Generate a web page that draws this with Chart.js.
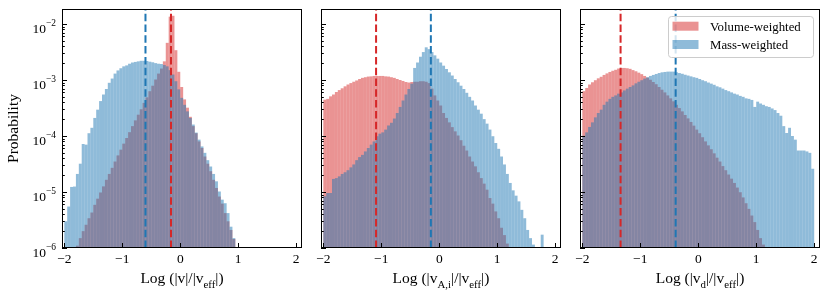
<!DOCTYPE html>
<html>
<head>
<meta charset="utf-8">
<script src="https://cdn.jsdelivr.net/npm/chart.js@4.4.0/dist/chart.umd.min.js"></script>
<style>
  body { margin: 0; background: #fff; }
  #wrap { position: relative; width: 830px; height: 297px; }
  canvas { position: absolute; top: 0; }
</style>
</head>
<body>
<div id="wrap">
  <canvas id="c1" width="310" height="297" style="left:0px"></canvas>
  <canvas id="c2" width="260" height="297" style="left:310px"></canvas>
  <canvas id="c3" width="260" height="297" style="left:570px"></canvas>
</div>
<script>
// bins of width 0.05 from -2 to 2 (centres)
const binCenters = Array.from({length: 80}, (_, i) => -1.975 + 0.05 * i);
const N = null;

// panel 1: |v|
const v1Vol = [N,N,N,N,1.1e-6,1.5e-6,2.0e-6,2.6e-6,3.4e-6,4.3e-6,
  5.9e-6,7.6e-6,9.8e-6,1.26e-5,1.65e-5,2.1e-5,2.7e-5,3.5e-5,4.5e-5,5.7e-5,
  7.3e-5,9.2e-5,1.17e-4,1.5e-4,1.9e-4,2.4e-4,3.0e-4,3.9e-4,4.9e-4,6.3e-4,
  7.9e-4,1.02e-3,1.3e-3,1.6e-3,2.15e-3,4.6e-3,1.35e-2,1.4e-2,3.4e-3,1.4e-3,
  7.5e-4,4.5e-4,3.2e-4,2.2e-4,1.5e-4,1.12e-4,8.0e-5,6.1e-5,4.3e-5,3.2e-5,
  2.35e-5,1.65e-5,1.18e-5,8.3e-6,6.2e-6,4.2e-6,3.0e-6,2.1e-6,1.45e-6,N,
  N,N,N,N,N,N,N,N,N,N,N,N,N,N,N,N,N,N,N,N];
const v1Mass = [3.0e-6,5.5e-6,1.23e-5,1.25e-5,2.1e-5,3.2e-5,7.2e-5,7.0e-5,1.12e-4,1.4e-4,
  2.1e-4,2.95e-4,4.2e-4,5.5e-4,6.9e-4,8.9e-4,1.06e-3,1.3e-3,1.48e-3,1.62e-3,
  1.75e-3,1.82e-3,1.95e-3,2.05e-3,2.1e-3,2.15e-3,2.2e-3,2.2e-3,2.18e-3,2.12e-3,
  2.07e-3,2.0e-3,1.95e-3,1.93e-3,1.85e-3,1.75e-3,1.5e-3,1.25e-3,9.5e-4,6.8e-4,
  4.8e-4,3.6e-4,2.75e-4,2.1e-4,1.6e-4,1.15e-4,8.6e-5,6.5e-5,5.0e-5,3.7e-5,
  2.85e-5,2.1e-5,1.55e-5,1.02e-5,7.3e-6,6.3e-6,4.2e-6,2.4e-6,1.5e-6,N,
  N,N,N,N,N,N,N,N,N,N,N,N,N,N,N,N,N,N,N,N];

// panel 2: |v_A,i|
const v2Vol = [4.45e-4,4.6e-4,5.1e-4,5.5e-4,6.1e-4,6.6e-4,7.1e-4,7.7e-4,8.3e-4,8.8e-4,
  9.3e-4,9.8e-4,1.04e-3,1.09e-3,1.12e-3,1.15e-3,1.16e-3,1.18e-3,1.18e-3,1.18e-3,
  1.18e-3,1.16e-3,1.15e-3,1.12e-3,1.09e-3,1.04e-3,1.0e-3,9.6e-4,9.2e-4,9.0e-4,
  9.2e-4,9.3e-4,9.3e-4,9.5e-4,9.5e-4,9.3e-4,8.8e-4,7.0e-4,5.3e-4,4.3e-4,
  3.5e-4,2.57e-4,2.1e-4,1.75e-4,1.44e-4,1.21e-4,1.02e-4,8.4e-5,6.7e-5,5.5e-5,
  4.3e-5,3.5e-5,2.87e-5,2.25e-5,1.77e-5,1.41e-5,1.1e-5,7.8e-6,6.2e-6,4.5e-6,
  3.4e-6,2.3e-6,1.7e-6,1.2e-6,N,N,N,N,N,N,N,N,N,N,N,N,N,N,N,N];
const v2Mass = [8.4e-6,9.6e-6,9.6e-6,1.71e-5,1.77e-5,1.9e-5,2.1e-5,2.25e-5,2.45e-5,2.75e-5,
  3.1e-5,3.7e-5,4.2e-5,4.6e-5,5.3e-5,6.1e-5,7.0e-5,8.0e-5,9.9e-5,1.1e-4,
  1.16e-4,1.3e-4,1.54e-4,1.72e-4,2.05e-4,2.57e-4,3.3e-4,4.3e-4,5.5e-4,6.9e-4,
  8.6e-4,1.64e-3,2.05e-3,2.6e-3,3.15e-3,3.83e-3,3.55e-3,3.15e-3,2.75e-3,2.4e-3,
  2.05e-3,1.8e-3,1.57e-3,1.37e-3,1.2e-3,1.04e-3,9.1e-4,7.9e-4,6.9e-4,5.9e-4,
  5.0e-4,4.3e-4,3.5e-4,2.95e-4,2.5e-4,2.0e-4,1.66e-4,1.3e-4,9.9e-5,7.5e-5,
  5.9e-5,4.3e-5,3.1e-5,2.1e-5,1.45e-5,1.07e-5,8.6e-6,6.8e-6,4.8e-6,3.4e-6,
  2.1e-6,1.5e-6,1.15e-6,N,N,1.73e-6,N,N,N,N];

// panel 3: |v_d|
const v3Vol = [6.3e-4,7.2e-4,8.3e-4,9.1e-4,9.9e-4,1.07e-3,1.14e-3,1.23e-3,1.31e-3,1.39e-3,
  1.46e-3,1.52e-3,1.6e-3,1.64e-3,1.64e-3,1.62e-3,1.58e-3,1.5e-3,1.43e-3,1.35e-3,
  1.27e-3,1.18e-3,1.1e-3,1.01e-3,9.2e-4,8.4e-4,7.5e-4,6.7e-4,6.0e-4,5.3e-4,
  4.7e-4,4.16e-4,3.6e-4,3.15e-4,2.75e-4,2.37e-4,2.06e-4,1.78e-4,1.53e-4,1.3e-4,
  1.12e-4,9.5e-5,8.0e-5,6.8e-5,5.8e-5,4.9e-5,4.1e-5,3.5e-5,2.9e-5,2.45e-5,
  2.05e-5,1.73e-5,1.45e-5,1.2e-5,9.9e-6,8.0e-6,6.3e-6,5.0e-6,3.8e-6,2.9e-6,
  2.1e-6,1.5e-6,1.15e-6,N,N,N,N,N,N,N,N,N,N,N,N,N,N,N,N,N];
const v3Mass = [1.01e-4,1.16e-4,1.45e-4,1.75e-4,2.15e-4,2.57e-4,2.95e-4,3.6e-4,4.1e-4,4.6e-4,
  5.0e-4,5.3e-4,5.7e-4,6.0e-4,6.5e-4,7.0e-4,7.5e-4,8.0e-4,8.7e-4,9.3e-4,
  9.9e-4,1.06e-3,1.12e-3,1.18e-3,1.23e-3,1.28e-3,1.33e-3,1.37e-3,1.39e-3,1.41e-3,
  1.41e-3,1.41e-3,1.37e-3,1.33e-3,1.29e-3,1.24e-3,1.2e-3,1.16e-3,1.12e-3,1.09e-3,
  1.04e-3,9.9e-4,9.5e-4,9.0e-4,8.6e-4,8.2e-4,7.7e-4,7.4e-4,7.0e-4,6.6e-4,
  6.3e-4,6.0e-4,5.7e-4,5.5e-4,5.2e-4,5.0e-4,4.7e-4,4.6e-4,4.4e-4,3.3e-4,
  4.1e-4,3.8e-4,3.6e-4,3.4e-4,3.3e-4,3.1e-4,2.9e-4,2.57e-4,2.3e-4,1.5e-4,
  1.13e-4,1.4e-4,1.0e-4,8.6e-5,5.5e-5,5.5e-5,5.5e-5,5.3e-5,5.0e-5,2.6e-5];

// medians drawn as dashed lines (panel 1, 2, 3)
const medVol = [-0.16, -1.09, -1.34];
const medMass = [-0.60, -0.145, -0.39];

const xTicks = [-2, -1, 0, 1, 2];
const yTicks = [1e-6, 1e-5, 1e-4, 1e-3, 1e-2];
const seriesNames = ['Volume-weighted', 'Mass-weighted'];

const FONT = "'Liberation Serif', 'DejaVu Serif', serif";
const RED = '#d62728', BLUE = '#1f77b4';
const RED_A = 'rgba(214,39,40,0.5)', BLUE_A = 'rgba(31,119,180,0.5)';

function richText(ctx, parts, x, y, size, align) {
  const fonts = parts.map(p => (p[1] ? size * 0.7 : size) + 'px ' + FONT);
  const widths = parts.map((p, i) => { ctx.font = fonts[i]; return ctx.measureText(p[0]).width; });
  const total = widths.reduce((a, b) => a + b, 0);
  let cx = align === 'right' ? x - total : align === 'center' ? x - total / 2 : x;
  ctx.textAlign = 'left';
  ctx.textBaseline = 'alphabetic';
  parts.forEach((p, i) => {
    ctx.font = fonts[i];
    const dy = p[1] === 1 ? size * 0.3 : p[1] === 2 ? -size * 0.5 : 0;
    ctx.fillText(p[0], cx, y + dy);
    cx += widths[i];
  });
}

const decor = {
  id: 'decor',
  afterDatasetsDraw(chart, args, o) {
    const {ctx, chartArea: a, scales: {x}} = chart;
    ctx.save();
    ctx.beginPath();
    ctx.rect(a.left, a.top, a.right - a.left, a.bottom - a.top);
    ctx.clip();
    ctx.lineWidth = 2;
    ctx.setLineDash([7.5, 3.3]);
    [[o.vol, RED], [o.mass, BLUE]].forEach(([v, c]) => {
      const px = x.getPixelForValue(v);
      ctx.strokeStyle = c;
      ctx.beginPath();
      ctx.moveTo(px, a.bottom);
      ctx.lineTo(px, a.top);
      ctx.stroke();
    });
    ctx.restore();
  },
  afterDraw(chart, args, o) {
    const {ctx, chartArea: a, scales: {x, y}} = chart;
    ctx.save();
    ctx.strokeStyle = '#000';
    ctx.fillStyle = '#000';
    ctx.lineWidth = 1;
    // inward ticks
    ctx.beginPath();
    xTicks.forEach(v => {
      const px = Math.round(x.getPixelForValue(v)) + 0.5;
      ctx.moveTo(px, a.bottom); ctx.lineTo(px, a.bottom - 5);
    });
    for (let e = -6; e <= -2; e++) {
      for (let k = 1; k <= 9; k++) {
        const v = k * Math.pow(10, e);
        if (v > y.max) break;
        const py = Math.round(y.getPixelForValue(v)) + 0.5;
        ctx.moveTo(a.left, py); ctx.lineTo(a.left + (k === 1 ? 5 : 2.8), py);
      }
    }
    ctx.stroke();
    // frame
    ctx.strokeRect(Math.round(a.left) + 0.5, Math.round(a.top) + 0.5,
      Math.round(a.right - a.left) - 1, Math.round(a.bottom - a.top) - 1);
    // y tick labels
    if (o.yLabels) {
      yTicks.forEach(v => {
        const py = y.getPixelForValue(v);
        const ex = Math.round(Math.log10(v));
        richText(ctx, [['10', 0], ['\u2212' + Math.abs(ex), 2]], a.left - 6, py + 9, 13.5, 'right');
      });
    }
    // x title
    richText(ctx, o.xTitle, (a.left + a.right) / 2, 283, 15.5, 'center');
    // legend
    if (o.legend) {
      const bw = 145, bh = 41;
      const bx = a.right - 7 - bw, by = a.top + 7;
      ctx.beginPath();
      ctx.roundRect(bx + 0.5, by + 0.5, bw, bh, 3);
      ctx.fillStyle = 'rgba(255,255,255,0.8)';
      ctx.fill();
      ctx.strokeStyle = '#cccccc';
      ctx.stroke();
      [[RED_A, 5.7], [BLUE_A, 24]].forEach(([c, dy], i) => {
        ctx.fillStyle = c;
        ctx.fillRect(bx + 4.5, by + dy, 26, 9);
        ctx.fillStyle = '#000';
        ctx.font = '12.8px ' + FONT;
        ctx.textAlign = 'left';
        ctx.textBaseline = 'alphabetic';
        ctx.fillText(seriesNames[i], bx + 42, by + dy + 9);
      });
    }
    ctx.restore();
  }
};

function makePanel(id, vol, mass, p) {
  const pts = arr => binCenters.map((c, i) => ({x: c, y: arr[i]}));
  new Chart(id, {
    type: 'bar',
    data: {
      datasets: [
        {label: seriesNames[0], data: pts(vol), backgroundColor: RED_A, order: 1},
        {label: seriesNames[1], data: pts(mass), backgroundColor: BLUE_A, order: 0}
      ]
    },
    options: {
      responsive: false,
      animation: false,
      events: [],
      grouped: false,
      barPercentage: 1,
      categoryPercentage: 1,
      borderWidth: 0,
      inflateAmount: 0,
      base: 1e-6,
      layout: {padding: {top: 9, right: p.padRight, left: 0, bottom: 0}},
      plugins: {
        legend: {display: false},
        tooltip: {enabled: false},
        decor: {vol: p.vol, mass: p.mass, yLabels: p.yLabels, legend: p.legend, xTitle: p.xTitle}
      },
      scales: {
        x: {
          type: 'linear', min: -2.04, max: 2.1, offset: false,
          grid: {display: false, drawTicks: false, tickLength: 0}, border: {display: false},
          ticks: {
            color: '#000', padding: 3, maxRotation: 0, autoSkip: false,
            font: {family: FONT, size: 13.5},
            callback: v => (v < 0 ? '\u2212' + Math.abs(v) : String(v))
          },
          afterBuildTicks: s => { s.ticks = xTicks.map(v => ({value: v})); },
          afterFit: s => { s.height = 49; }
        },
        y: {
          type: 'logarithmic', min: 1e-6, max: 0.0185,
          grid: {display: false}, border: {display: false},
          ticks: {display: false},
          title: {
            display: p.yLabels, text: 'Probability', color: '#000',
            font: {family: FONT, size: 15.5}, padding: {top: 5, bottom: 0}
          },
          afterFit: s => { s.width = p.yWidth; }
        }
      }
    },
    plugins: [decor]
  });
}

makePanel('c1', v1Vol, v1Mass, {
  vol: medVol[0], mass: medMass[0], yLabels: true, legend: false, yWidth: 62, padRight: 8,
  xTitle: [['Log (|v|/|v', 0], ['eff', 1], ['|)', 0]]
});
makePanel('c2', v2Vol, v2Mass, {
  vol: medVol[1], mass: medMass[1], yLabels: false, legend: false, yWidth: 11, padRight: 9,
  xTitle: [['Log (|v', 0], ['A,i', 1], ['|/|v', 0], ['eff', 1], ['|)', 0]]
});
makePanel('c3', v3Vol, v3Mass, {
  vol: medVol[2], mass: medMass[2], yLabels: false, legend: true, yWidth: 10, padRight: 10,
  xTitle: [['Log (|v', 0], ['d', 1], ['|/|v', 0], ['eff', 1], ['|)', 0]]
});
</script>
</body>
</html>
